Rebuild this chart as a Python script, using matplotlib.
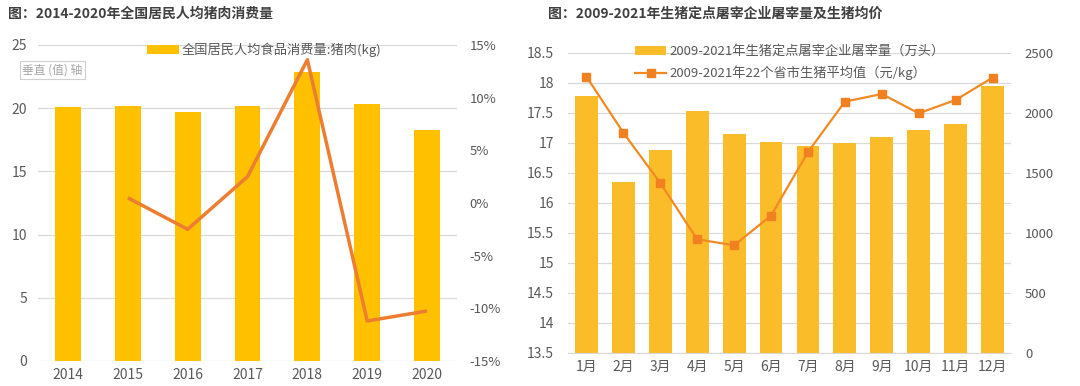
import matplotlib
matplotlib.use("Agg")
import matplotlib.pyplot as plt
from matplotlib.ticker import FuncFormatter

plt.rcParams['font.family'] = ['Noto Sans CJK SC', 'DejaVu Sans']

# ---- Left chart data ----
years = ['2014', '2015', '2016', '2017', '2018', '2019', '2020']
pork_kg = [20.1, 20.2, 19.7, 20.15, 22.9, 20.3, 18.3]
growth_years = ['2015', '2016', '2017', '2018', '2019', '2020']
growth_pct = [0.5, -2.5, 2.5, 13.6, -11.2, -10.25]

left_title = '图：2014-2020年全国居民人均猪肉消费量'
left_legend = '全国居民人均食品消费量:猪肉(kg)'

# ---- Right chart data ----
months = ['1月', '2月', '3月', '4月', '5月', '6月', '7月', '8月', '9月', '10月', '11月', '12月']
slaughter = [17.77, 16.35, 16.88, 17.52, 17.14, 17.01, 16.945, 17.0, 17.095, 17.21, 17.31, 17.95]
price = [2300, 1833, 1414, 945, 895, 1142, 1672, 2092, 2156, 1995, 2106, 2292]

right_title = '图：2009-2021年生猪定点屠宰企业屠宰量及生猪均价'
right_legend_bar = '2009-2021年生猪定点屠宰企业屠宰量（万头）'
right_legend_line = '2009-2021年22个省市生猪平均值（元/kg）'

TICK = '#595959'
GRID = '#D9D9D9'

fig = plt.figure(figsize=(10.8, 3.86), dpi=100)

W, H = 1080, 386
def ax_rect(x0, x1, ytop, ybot):
    return [x0 / W, 1 - ybot / H, (x1 - x0) / W, (ybot - ytop) / H]

# ================= Left chart =================
axL = fig.add_axes(ax_rect(38, 457, 45, 361))
xL = list(range(len(years)))
bars = axL.bar(xL, pork_kg, width=0.43, color='#FFC000', zorder=2, label=left_legend)
axL.set_xlim(-0.5, 6.5)
axL.set_ylim(0, 25)
axL.set_yticks([0, 5, 10, 15, 20, 25])
axL.set_xticks(xL)
axL.set_xticklabels(years)
axL.grid(axis='y', color=GRID, linewidth=0.9, zorder=0)
axL.set_axisbelow(True)
for s in axL.spines.values():
    s.set_visible(False)
axL.tick_params(axis='both', length=0, colors=TICK, labelsize=10)
axL.tick_params(axis='y', pad=8)
axL.tick_params(axis='x', pad=5)

axL2 = axL.twinx()
gx = [years.index(y) for y in growth_years]
axL2.plot(gx, growth_pct, color='#ED7D31', linewidth=2.5, zorder=3, solid_capstyle='butt')
axL2.set_ylim(-15, 15)
axL2.set_yticks([-15, -10, -5, 0, 5, 10, 15])
axL2.yaxis.set_major_formatter(FuncFormatter(lambda v, p: f'{int(v)}%'))
for s in axL2.spines.values():
    s.set_visible(False)
axL2.tick_params(axis='y', length=0, colors=TICK, labelsize=9.5, pad=9)

axL.legend(handles=[bars], loc='upper center', bbox_to_anchor=(0.54, 1.045),
           frameon=False, fontsize=9.5, handlelength=2.4, handleheight=0.6,
           handletextpad=0.2, labelcolor=TICK)

fig.text(8 / W, 1 - 14 / H, left_title, fontsize=10, fontweight='bold',
         color='#404040', va='center', ha='left')
fig.text(22 / W, 1 - 70 / H, '垂直 (值) 轴', fontsize=8.5, color='#A6A6A6',
         va='center', ha='left',
         bbox=dict(boxstyle='square,pad=0.2', fc='white', ec='#D0D0D0', lw=0.8))

# ================= Right chart =================
axR = fig.add_axes(ax_rect(568, 1011, 52.7, 352.7))
xR = list(range(len(months)))
barsR = axR.bar(xR, slaughter, width=0.62, color='#FBBC2A', zorder=2,
                label=right_legend_bar)
axR.set_xlim(-0.5, 11.5)
axR.set_ylim(13.5, 18.5)
axR.set_yticks([13.5, 14, 14.5, 15, 15.5, 16, 16.5, 17, 17.5, 18, 18.5])
axR.yaxis.set_major_formatter(FuncFormatter(lambda v, p: f'{v:g}'))
axR.set_xticks(xR)
axR.set_xticklabels(months)
axR.grid(axis='y', color=GRID, linewidth=0.9, zorder=0)
axR.set_axisbelow(True)
for s in axR.spines.values():
    s.set_visible(False)
axR.spines['bottom'].set_visible(True)
axR.spines['bottom'].set_color(GRID)
axR.tick_params(axis='both', length=0, colors=TICK, labelsize=10)
axR.tick_params(axis='y', pad=10)
axR.tick_params(axis='x', pad=5)

axR2 = axR.twinx()
lineR, = axR2.plot(xR, price, color='#F28A24', linewidth=1.6, marker='s',
                   markersize=5.5, markerfacecolor='#F08020',
                   markeredgecolor='#F08020', zorder=3, label=right_legend_line)
axR2.set_ylim(0, 2500)
axR2.set_yticks([0, 500, 1000, 1500, 2000, 2500])
for s in axR2.spines.values():
    s.set_visible(False)
axR2.tick_params(axis='y', length=0, colors=TICK, labelsize=9.5, pad=10)

axR.legend(handles=[barsR, lineR], loc='upper center', bbox_to_anchor=(0.5, 1.065),
           frameon=False, fontsize=9.5, handlelength=2.4, handleheight=0.6,
           handletextpad=0.2, labelspacing=0.55, labelcolor=TICK)

fig.text(548 / W, 1 - 14 / H, right_title, fontsize=10, fontweight='bold',
         color='#404040', va='center', ha='left')

fig.savefig('out.png', dpi=100)
